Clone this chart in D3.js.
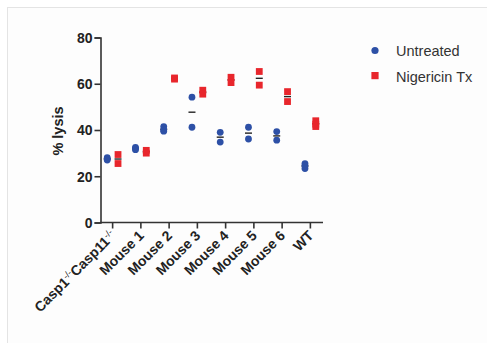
<!DOCTYPE html>
<html>
<head>
<meta charset="utf-8">
<script src="https://cdn.jsdelivr.net/npm/d3@7"></script>
<style>
  body { margin: 0; background: #fff; }
  text { font-family: "Liberation Sans", Arial, sans-serif; }
</style>
</head>
<body>
<div id="chart"></div>
<script>
// groups on the x axis
var groups = ["Casp1-/-Casp11-/-", "Mouse 1", "Mouse 2", "Mouse 3", "Mouse 4", "Mouse 5", "Mouse 6", "WT"];
// replicate values, % lysis
var untreated = [
  [27.5, 28, 27],
  [32.5, 31.5, 32],
  [41.5, 40, 39.5],
  [54.2, 41.2],
  [39, 34.8],
  [41.2, 36.1],
  [39.3, 35.6],
  [25.5, 24.5, 23.3]
];
var nigericin = [
  [29.4, 25.5],
  [31.2, 30],
  [62.5, 62],
  [57.2, 55.5],
  [62.8, 60.5],
  [65.3, 59.4],
  [56.6, 52.3],
  [44, 42.5, 41.5]
];
var yTicks = [0, 20, 40, 60, 80];
var seriesNames = ["Untreated", "Nigericin Tx"];

var width = 487, height = 343;
var blue = "#2d50a6", red = "#e8262c";

var svg = d3.select("#chart").append("svg")
  .attr("width", width)
  .attr("height", height);

svg.append("rect")
  .attr("x", 7.5).attr("y", 7.5)
  .attr("width", 500).attr("height", 400)
  .attr("fill", "#fdfdfd")
  .attr("stroke", "#e4e4e4");

var x = d3.scaleBand().domain(groups).range([98.5, 324.5]).padding(0);
var y = d3.scaleLinear().domain([0, 80]).range([222.5, 37.5]);

var off = 5.4, r = 3.4;

// axes
var yAxis = svg.append("g")
  .attr("transform", "translate(100.5,0)")
  .call(d3.axisLeft(y).tickValues(yTicks).tickSize(6).tickPadding(2));
yAxis.select(".domain").attr("stroke", "#333").attr("stroke-width", 1.6);
yAxis.selectAll(".tick line").attr("stroke", "#333").attr("stroke-width", 1.6);
yAxis.selectAll(".tick text")
  .attr("font-size", 14).attr("font-weight", "bold").attr("fill", "#222")
  .attr("dy", "0.35em");

var xAxis = svg.append("g")
  .attr("transform", "translate(0,222.5)");
xAxis.append("line")
  .attr("x1", 100).attr("x2", 323)
  .attr("stroke", "#333").attr("stroke-width", 1.6);
xAxis.selectAll(".tk").data(groups).join("line")
  .attr("class", "tk")
  .attr("x1", function(d) { return x(d) + x.bandwidth() / 2; })
  .attr("x2", function(d) { return x(d) + x.bandwidth() / 2; })
  .attr("y1", 0).attr("y2", 6)
  .attr("stroke", "#333").attr("stroke-width", 1.6);

var lbl = xAxis.selectAll(".lbl").data(groups).join("text")
  .attr("class", "lbl")
  .attr("text-anchor", "end")
  .attr("font-size", 14).attr("font-weight", "bold").attr("fill", "#222")
  .attr("transform", function(d) {
    return "translate(" + (x(d) + x.bandwidth() / 2 + 4) + ",14) rotate(-45)";
  });
lbl.each(function(d) {
  var t = d3.select(this);
  if (d.indexOf("Casp") === 0) {
    t.append("tspan").text("Casp1");
    t.append("tspan").attr("font-size", 9).attr("font-weight", "normal").attr("dy", -5).text("-/-");
    t.append("tspan").attr("dy", 5).text("Casp11");
    t.append("tspan").attr("font-size", 9).attr("font-weight", "normal").attr("dy", -5).text("-/-");
  } else {
    t.text(d);
  }
});

svg.append("text")
  .attr("transform", "translate(63,131) rotate(-90)")
  .attr("text-anchor", "middle")
  .attr("font-size", 14.5).attr("font-weight", "bold").attr("fill", "#222")
  .text("% lysis");

// mean lines, drawn under the points
function meanLines(data, dx) {
  svg.append("g").selectAll("line").data(data).join("line")
    .attr("x1", function(d, i) { return x(groups[i]) + x.bandwidth() / 2 + dx - 3.5; })
    .attr("x2", function(d, i) { return x(groups[i]) + x.bandwidth() / 2 + dx + 3.5; })
    .attr("y1", function(d) { return y(d3.mean(d)); })
    .attr("y2", function(d) { return y(d3.mean(d)); })
    .attr("stroke", "#222").attr("stroke-width", 1.4);
}
meanLines(untreated, -off);
meanLines(nigericin, off);

// points
var ptsU = [], ptsN = [];
untreated.forEach(function(vals, i) { vals.forEach(function(v) { ptsU.push({g: groups[i], v: v}); }); });
nigericin.forEach(function(vals, i) { vals.forEach(function(v) { ptsN.push({g: groups[i], v: v}); }); });

svg.append("g").selectAll("circle").data(ptsU).join("circle")
  .attr("cx", function(d) { return x(d.g) + x.bandwidth() / 2 - off; })
  .attr("cy", function(d) { return y(d.v); })
  .attr("r", r)
  .attr("fill", blue);

svg.append("g").selectAll("rect").data(ptsN).join("rect")
  .attr("x", function(d) { return x(d.g) + x.bandwidth() / 2 + off - r; })
  .attr("y", function(d) { return y(d.v) - r; })
  .attr("width", 2 * r).attr("height", 2 * r)
  .attr("fill", red);

// legend
var legend = svg.append("g").attr("transform", "translate(375,0)");
legend.append("circle").attr("cx", 0).attr("cy", 50.5).attr("r", 3.6).attr("fill", blue);
legend.append("rect").attr("x", -3.6).attr("y", 72).attr("width", 7.2).attr("height", 7.2).attr("fill", red);
legend.selectAll("text").data(seriesNames).join("text")
  .attr("x", 21)
  .attr("y", function(d, i) { return 50.5 + i * 26; })
  .attr("dy", "0.35em")
  .attr("font-size", 14.5).attr("fill", "#333")
  .text(function(d) { return d; });
</script>
</body>
</html>
